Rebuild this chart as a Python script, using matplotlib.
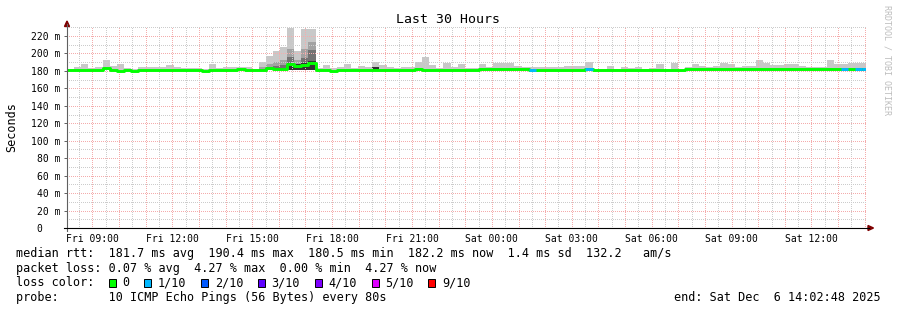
import numpy as np
import matplotlib.pyplot as plt
from matplotlib.patches import Rectangle, Polygon
from matplotlib.lines import Line2D

W, H = 897, 310
MONO = 'DejaVu Sans Mono'

#### data: one column per 16 min, first column starts Fri 08:02:48 ####
t0 = 8 + 2.8 / 60          # hours since Fri 00:00
step = 16 / 60

median = [181.4, 181.4, 181.4, 181.4, 181.4, 183.0, 181.4, 179.5, 181.4, 179.5,
          181.4, 181.4, 181.4, 181.4, 181.4, 181.4, 181.4, 181.4, 181.4, 179.5,
          181.4, 181.4, 181.4, 181.4, 182.5, 181.4, 181.4, 181.4, 183.5, 182.5,
          182.5, 187.5, 185.5, 187.0, 189.5, 181.0, 181.4, 179.5, 181.4, 181.4,
          181.4, 181.4, 181.4, 181.4, 181.4, 181.4, 181.4, 181.4, 181.4, 182.5,
          181.4, 181.4, 181.4, 181.4, 181.4, 181.4, 181.4, 181.4, 182.0, 182.0,
          182.0, 182.0, 182.0, 182.0, 182.0, 181.2, 181.4, 181.4, 181.4, 181.4,
          181.4, 181.4, 181.4, 182.0, 181.2, 181.2, 181.2, 181.2, 181.2, 181.2,
          181.2, 181.2, 181.2, 181.2, 181.2, 181.2, 181.0, 182.5, 182.5, 182.5,
          182.5, 182.5, 182.5, 182.5, 182.5, 182.5, 182.5, 182.5, 182.5, 182.5,
          182.5, 182.5, 182.5, 182.5, 182.5, 182.5, 182.5, 182.5, 182.5, 182.5,
          182.5, 182.5, 182.5]

smoke_hi = [182.5, 185.0, 187.5, 183.0, 185.0, 193.0, 186.0, 187.5, 183.5, 182.5,
            184.0, 184.0, 185.0, 184.0, 186.5, 184.0, 183.0, 183.0, 183.0, 182.0,
            187.5, 183.5, 185.0, 185.0, 184.0, 184.0, 182.0, 190.5, 196.5, 202.5,
            207.0, 229.0, 202.5, 227.5, 228.5, 183.0, 187.0, 183.0, 185.0, 187.5,
            183.0, 186.0, 184.0, 190.5, 187.0, 185.0, 183.0, 185.0, 184.0, 190.5,
            196.0, 187.0, 183.0, 189.0, 185.0, 187.5, 183.0, 183.0, 187.5, 184.5,
            189.0, 189.5, 189.0, 186.0, 184.5, 184.5, 184.5, 184.5, 184.5, 184.5,
            185.5, 186.0, 186.0, 190.5, 182.0, 182.0, 186.0, 182.0, 185.0, 183.0,
            184.0, 182.5, 183.0, 187.5, 182.5, 189.0, 182.0, 185.0, 187.5, 186.0,
            185.0, 186.0, 189.0, 187.5, 185.0, 186.0, 186.0, 193.0, 189.0, 187.0,
            187.0, 188.0, 188.0, 186.0, 185.0, 185.0, 185.0, 192.0, 188.0, 188.0,
            189.0, 189.0, 189.0]
smoke_lo = 180.5

# denser smoke inside the afternoon spike
spike_idx = [27, 28, 29, 30, 31, 32, 33, 34, 43]
spike_mid = [184.5, 188.0, 190.0, 193.0, 205.5, 192.0, 205.5, 213.5, 184.5]
spike_dark = [182.5, 184.5, 186.0, 187.0, 196.0, 187.0, 195.0, 204.0, 183.5]
core_idx = [31, 32, 33, 34, 43]
core_top = [189.5, 187.5, 189.0, 191.5, 184.5]

# lost pings out of 10 (0 everywhere else)
loss_idx = [65, 73, 109, 111, 112]
loss_val = [1, 1, 1, 1, 1]

loss_colors = {0: '#00ff00', 1: '#00b8ff', 2: '#0059ff', 3: '#5e00ff',
               4: '#7e00ff', 5: '#dd00ff', 9: '#ff0000'}
loss_labels = ['0', '1/10', '2/10', '3/10', '4/10', '5/10', '9/10']
loss_keys = [0, 1, 2, 3, 4, 5, 9]

tick_hours = [9, 12, 15, 18, 21, 24, 27, 30, 33, 36]
tick_names = ['Fri 09:00', 'Fri 12:00', 'Fri 15:00', 'Fri 18:00', 'Fri 21:00',
              'Sat 00:00', 'Sat 03:00', 'Sat 06:00', 'Sat 09:00', 'Sat 12:00']


def fx(px):
    return px / W


def fy(py):
    return 1 - py / H


fig = plt.figure(figsize=(W / 100, H / 100), dpi=100)
x0, x1, ytop, ybot = 67, 866, 25.5, 228
ax = fig.add_axes([fx(x0), fy(ybot), (x1 - x0) / W, (ybot - ytop) / H])
ax.set_xlim(t0, t0 + 30)
ax.set_ylim(0, 232)
for s in ax.spines.values():
    s.set_visible(False)

t = t0 + step * np.arange(len(median))
hi = np.array(smoke_hi)

#### smoke ####
ax.bar(t, hi - smoke_lo, bottom=smoke_lo, width=step, align='edge',
       color='#c8c8c8', linewidth=0, zorder=1)
ts = t[spike_idx]
ax.bar(ts, np.array(spike_mid) - smoke_lo, bottom=smoke_lo, width=step,
       align='edge', color='#a2a2a2', linewidth=0, zorder=1.1)
ax.bar(ts, np.array(spike_dark) - smoke_lo, bottom=smoke_lo, width=step,
       align='edge', color='#727272', linewidth=0, zorder=1.2)
ax.bar(t[core_idx], np.array(core_top) - smoke_lo, bottom=smoke_lo, width=step,
       align='edge', color='#333333', linewidth=0, zorder=1.3)

#### grid (1px dots, 2px gaps) ####
dots = (0, (1, 2))
for h in np.arange(8.5, 38.1, 0.5):
    c = '#f4acac' if h == int(h) else '#cccccc'
    ax.axvline(h, color=c, lw=0.72, linestyle=dots, antialiased=False, zorder=2)
for v in range(10, 231, 10):
    c = '#f4acac' if v % 20 == 0 else '#cccccc'
    ax.axhline(v, color=c, lw=0.72, linestyle=dots, antialiased=False, zorder=2)

#### median, coloured by loss ####
xs = np.append(t, t[-1] + step)
ys = np.append(median, median[-1])
ax.step(xs, ys, where='post', color=loss_colors[0], lw=2.1, zorder=4)
for i, l in zip(loss_idx, loss_val):
    ax.hlines(median[i], t[i], t[i] + step, color=loss_colors[l], lw=2.1, zorder=4.5)

#### ticks ####
ax.set_xticks(tick_hours)
ax.set_xticklabels(tick_names, family=MONO, fontsize=7)
ax.tick_params(axis='x', length=0, pad=4)
yt = list(range(0, 221, 20))
ax.set_yticks(yt)
ax.set_yticklabels(['0   '] + ['%d m' % v for v in yt[1:]], family=MONO, fontsize=7)
ax.tick_params(axis='y', length=2.5, width=0.7, color='#606060', pad=2.5)

#### axes with arrows ####
fig.add_artist(Line2D([fx(67), fx(67)], [fy(231), fy(24)], color='#606060', lw=0.8))
fig.add_artist(Line2D([fx(64), fx(869)], [fy(228), fy(228)], color='black', lw=0.8))
fig.add_artist(Polygon([(fx(64.5), fy(26.5)), (fx(69.5), fy(26.5)), (fx(67), fy(21))],
                       closed=True, color='#7f0000', transform=fig.transFigure))
fig.add_artist(Polygon([(fx(868), fy(225.5)), (fx(868), fy(230.5)), (fx(873.5), fy(228))],
                       closed=True, color='#7f0000', transform=fig.transFigure))

#### texts ####
fig.text(fx(448), fy(19.5), 'Last 30 Hours', ha='center', va='center',
         family=MONO, fontsize=9.5)
fig.text(fx(12), fy(127), 'Seconds', rotation=90, ha='center', va='center',
         family=MONO, fontsize=8.5)
fig.text(fx(887), fy(5), 'RRDTOOL / TOBI OETIKER', rotation=-90, ha='center',
         va='top', family=MONO, fontsize=6, color='#bdbdbd')

cw = 7.1
lx = 16
fig.text(fx(lx), fy(257.5),
         'median rtt:  181.7 ms avg  190.4 ms max  180.5 ms min  182.2 ms now  1.4 ms sd  132.2   am/s',
         va='baseline', family=MONO, fontsize=8.5)
fig.text(fx(lx), fy(272),
         'packet loss: 0.07 % avg  4.27 % max  0.00 % min  4.27 % now',
         va='baseline', family=MONO, fontsize=8.5)
fig.text(fx(lx), fy(286.5), 'loss color:', va='baseline', family=MONO, fontsize=8.5)
c = 13
for k, lab in zip(loss_keys, loss_labels):
    px = lx + c * cw + 0.5
    fig.add_artist(Rectangle((fx(px), fy(286.5)), 7 / W, 8 / H, transform=fig.transFigure,
                             facecolor=loss_colors[k], edgecolor='black', lw=0.7))
    fig.text(fx(lx + (c + 2) * cw), fy(286.5), lab, va='baseline', family=MONO, fontsize=8.5)
    c += 2 + len(lab) + 2
fig.text(fx(lx), fy(301), 'probe:       10 ICMP Echo Pings (56 Bytes) every 80s',
         va='baseline', family=MONO, fontsize=8.5)
fig.text(fx(881), fy(301), 'end: Sat Dec  6 14:02:48 2025', ha='right',
         va='baseline', family=MONO, fontsize=8.5)

fig.savefig('out.png', dpi=100, facecolor='white')
